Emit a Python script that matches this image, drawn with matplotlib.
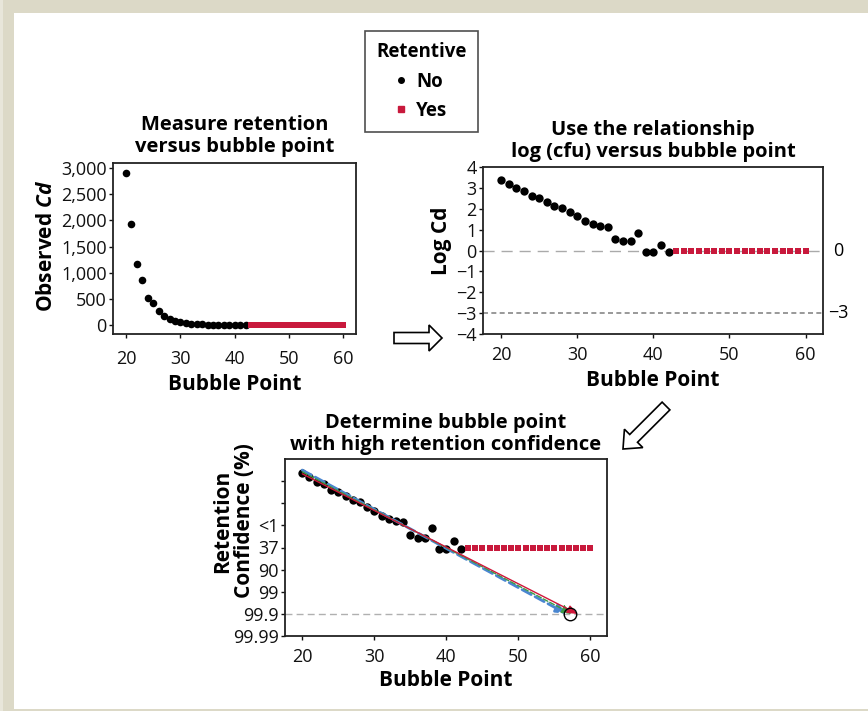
import matplotlib
matplotlib.use("Agg")
import matplotlib.pyplot as plt
from matplotlib.patches import Rectangle, FancyArrow
from matplotlib.lines import Line2D
import numpy as np

plt.rcParams['font.family'] = ['Open Sans', 'DejaVu Sans']
plt.rcParams['mathtext.fontset'] = 'custom'
plt.rcParams['mathtext.it'] = 'Open Sans:italic:bold'
plt.rcParams['mathtext.rm'] = 'Open Sans:bold'

# --- data ---
bubble_no = [20, 21, 22, 23, 24, 25, 26, 27, 28, 29, 30, 31,
             32, 33, 34, 35, 36, 37, 38, 39, 40, 41, 42]
cd_no = [2905, 1928, 1167, 869, 520, 419, 273, 165, 108, 82, 51, 32,
         19, 15, 13, 4, 3, 3, 7, 1, 1, 2, 1]
logcd_no = [3.37, 3.18, 2.98, 2.85, 2.60, 2.53, 2.32, 2.15, 2.04, 1.85, 1.65, 1.41,
            1.27, 1.18, 1.13, 0.55, 0.44, 0.44, 0.86, -0.05, -0.05, 0.28, -0.05]
bubble_yes = list(range(43, 61))
cd_yes = [0] * len(bubble_yes)
logcd_yes = [0] * len(bubble_yes)

# retention confidence axis (log Cd positions and labels)
conf_ticks = [-4, -3, -2, -1, 0, 1, 2, 3]
conf_labels = ['99.99', '99.9', '99', '90', '37', '<1', '', '']

cd_ticks = [0, 500, 1000, 1500, 2000, 2500, 3000]
cd_labels = ['0', '500', '1,000', '1,500', '2,000', '2,500', '3,000']
x_ticks = [20, 30, 40, 50, 60]

# fitted lines in the third panel (start / end)
fit_colors = ['#4a86d0', '#3f9a45', '#d0173a']
fit_styles = ['--', '--', '-']
fit_x0 = [20, 20, 20]
fit_y0 = [3.50, 3.42, 3.33]
fit_x1 = [56.7, 57.4, 58.2]
fit_y1 = [-3.0, -3.0, -3.0]
target_x, target_y = 57.2, -3.0

RED = '#c8193c'
W, H = 868, 711
fig = plt.figure(figsize=(W / 100, H / 100), dpi=100)


def px(l, t, r, b):
    return [l / W, 1 - b / H, (r - l) / W, (b - t) / H]


# background frame
ov = fig.add_axes([0, 0, 1, 1], zorder=-5)
ov.set_xlim(0, W)
ov.set_ylim(H, 0)
ov.axis('off')
beige = '#dcd9c7'
ov.add_patch(Rectangle((0, 0), W, 13, color=beige, lw=0))
ov.add_patch(Rectangle((0, 0), 3, H, color='#e8e6da', lw=0))
ov.add_patch(Rectangle((3, 0), 11, H, color=beige, lw=0))
ov.add_patch(Rectangle((14, 709), W, 2, color=beige, lw=0))

# hollow arrows between panels
ov.add_patch(FancyArrow(394, 338, 48, 0, width=11, head_width=26, head_length=13,
                        length_includes_head=True, fc='white', ec='black', lw=1.2))
ov.add_patch(FancyArrow(666, 406, -43, 43, width=11, head_width=26, head_length=15,
                        length_includes_head=True, fc='white', ec='black', lw=1.2))

TICK = 13


def style_axes(ax, xpad):
    for s in ax.spines.values():
        s.set_linewidth(1.3)
        s.set_color('#222222')
    ax.tick_params(direction='out', length=3, width=1, labelsize=TICK, colors='#111111')
    ax.tick_params(axis='x', pad=xpad)
    ax.tick_params(axis='y', pad=1.5)
    ax.set_xticks(x_ticks)
    ax.set_xlim(17.6, 62.3)


title_kw = dict(fontsize=14.5, fontweight='bold', linespacing=1.15)
label_kw = dict(fontsize=15, fontweight='bold')

# panel 1: observed Cd
ax1 = fig.add_axes(px(113, 163, 356, 334))
style_axes(ax1, 8.5)
ax1.scatter(bubble_no, cd_no, s=30, color='black', zorder=3, lw=0)
ax1.scatter(bubble_yes, cd_yes, s=16, marker='s', color=RED, zorder=3, lw=0)
ax1.set_ylim(-171, 3095)
ax1.set_yticks(cd_ticks)
ax1.set_yticklabels(cd_labels)
ax1.set_title('Measure retention\nversus bubble point', pad=8, **title_kw)
ax1.set_xlabel('Bubble Point', labelpad=4, **label_kw)
ax1.set_ylabel('Observed $Cd$', **label_kw)
ax1.yaxis.set_label_coords(-0.23, 0.515)

# panel 2: log Cd
ax2 = fig.add_axes(px(483, 167, 823, 334))
style_axes(ax2, 6)
ax2.scatter(bubble_no, logcd_no, s=36, color='black', zorder=3, lw=0)
ax2.scatter(bubble_yes, logcd_yes, s=15, marker='s', color=RED, zorder=3, lw=0)
ax2.axhline(0, color='#aaaaaa', lw=1, dashes=(8, 5), zorder=1)
ax2.axhline(-3, color='#888888', lw=1.2, dashes=(3, 2), zorder=1)
ax2.set_ylim(-4, 4)
ax2.set_yticks(range(-4, 5))
yt = ax2.get_yaxis_transform()
ax2.text(1.044, 0, '0', transform=yt, ha='center', va='center', fontsize=TICK)
ax2.text(1.044, -3, '\u22123', transform=yt, ha='center', va='center', fontsize=TICK)
ax2.set_title('Use the relationship\nlog (cfu) versus bubble point', pad=7, **title_kw)
ax2.set_xlabel('Bubble Point', labelpad=4, **label_kw)
ax2.set_ylabel('Log Cd', **label_kw)
ax2.yaxis.set_label_coords(-0.09, 0.56)

# panel 3: retention confidence
ax3 = fig.add_axes(px(285, 459, 607, 636))
style_axes(ax3, 6)
ax3.axhline(-3, color='#b0b0b0', lw=1, dashes=(5, 3), zorder=1)
ax3.scatter(bubble_no, logcd_no, s=36, color='black', zorder=3, lw=0)
ax3.scatter(bubble_yes, logcd_yes, s=15, marker='s', color=RED, zorder=3, lw=0)
for c, ls, x0, y0, x1, y1 in zip(fit_colors, fit_styles, fit_x0, fit_y0, fit_x1, fit_y1):
    lw = 2.0 if c == fit_colors[0] else 1.0
    ax3.annotate('', xy=(x1, y1), xytext=(x0, y0),
                 arrowprops=dict(arrowstyle='-|>,head_length=0.6,head_width=0.25',
                                 color=c, lw=lw, linestyle=ls, shrinkA=0, shrinkB=0),
                 zorder=4)
ax3.plot([target_x], [target_y], marker='o', ms=9, mfc='none', mec='black', mew=1, zorder=5)
ax3.set_ylim(-4, 4)
ax3.set_yticks(conf_ticks)
ax3.set_yticklabels(conf_labels)
ax3.set_title('Determine bubble point\nwith high retention confidence', pad=6.5, **title_kw)
ax3.set_xlabel('Bubble Point', labelpad=2.5, **label_kw)
ax3.set_ylabel('Retention\nConfidence (%)', linespacing=1.05, **label_kw)
ax3.yaxis.set_label_coords(-0.093, 0.65)

# legend
handles = [Line2D([], [], ls='none', marker='o', ms=4, color='black'),
           Line2D([], [], ls='none', marker='s', ms=4, color=RED)]
leg = fig.legend(handles, ['No', 'Yes'], title='Retentive', loc='upper left',
                 bbox_to_anchor=(365 / W, 1 - 31 / H), frameon=True, fancybox=False,
                 prop={'weight': 'bold', 'size': 13.5},
                 title_fontproperties={'weight': 'bold', 'size': 13.5},
                 handlelength=0.6, handletextpad=0.5, borderpad=0.6, labelspacing=0.5,
                 borderaxespad=0)
leg.get_frame().set_edgecolor('#222222')
leg.get_frame().set_linewidth(1.2)

fig.savefig('out.png', dpi=100, facecolor='white')
